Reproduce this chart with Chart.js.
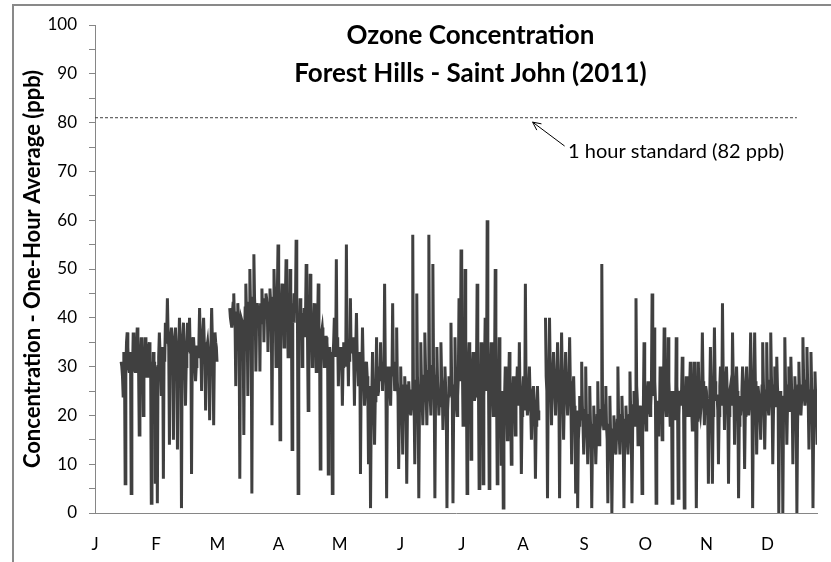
<!DOCTYPE html>
<html><head><meta charset="utf-8">
<script src="https://cdn.jsdelivr.net/npm/chart.js@4.4.1/dist/chart.umd.min.js"></script>
<style>html,body{margin:0;padding:0;background:#fff;}canvas{display:block;}</style>
</head><body>
<canvas id="c" width="831" height="562"></canvas>
<script>
// ---- data ----
const monthLabels = ['J','F','M','A','M','J','J','A','S','O','N','D'];
const monthStartDays = [0, 30.4, 60.8, 91.2, 121.6, 152, 182.4, 212.8, 243.2, 273.6, 304, 334.4];
const firstDay = 13;
// first reading of each day (peaks and dips)
const ozoneReadings = [
  31, 24, 6, 37, 29, 4, 37, 29,
  38, 16, 36, 20, 36, 28, 35, 2, 33, 6,
  2, 37, 24, 7, 39, 44, 14, 38, 15, 38,
  13, 40, 1, 39, 22, 39, 40, 8, 36, 27,
  34, 42, 25, 40, 21, 35, 19, 42, 18, 35,
  null, null, null, null, null, null,
  42, 38, 45, 26, 43, 7, 40, 16, 47, 24, 50, 4, 53, 29,
  43, 29, 46, 35, 45, 33, 46, 18, 50, 30,
  55, 15, 47, 34, 52, 32, 50, 13, 45, 56,
  4, 44, 30, 42, 51, 21, 49, 30, 43, 29,
  47, 9, 38, 30, 36, 8, 30, 4, 40, 52,
  26, 33, 22, 30, 55, 26, 44, 33, 22, 41,
  26, 8, 38, 22, 31, 10, 1, 33, 14, 36,
  25, 35, 25, 47, 3, 30, 22, 43, 25, 38,
  9, 30, 12, 28, 6, 27, 20, 57, 10, 45,
  3, 35, 18, 37, 18, 57, 20, 51, 3, 34,
  20, 35, 17, 30, 1, 28, 39, 2, 36, 20,
  44, 54, 18, 50, 4, 35, 11, 33, 24, 47,
  5, 35, 6, 40, 60, 5, 35, 20, 50, 6,
  36, 10, 1, 30, 15, 33, 10, 28, 16, 30,
  35, 8, 28, 47, 20, 30, 15, 26, 7, 26,
  null, null, null,
  40, 3, 40, 18, 33, 20, 35,
  3, 37, 15, 33, 20, 36, 10, 28, 4, 1,
  24, 31, 12, 30, 10, 26, 1, 22, 10, 27,
  17, 51, 17, 26, 2, 24, 0, 20, 12, 30,
  12, 24, 1, 22, 12, 29, 2, 25, 44, 14,
  22, 4, 35, 17, 27, 20, 45, 38, 2, 16,
  30, 15, 38, 20, 36, 18, 2, 25, 36, 3,
  25, 32, 1, 28, 20, 31, 17, 31, 1, 31,
  20, 37, 18, 25, 6, 34, 6, 38, 24, 10,
  30, 43, 17, 30, 6, 26, 37, 14, 30, 3,
  20, 30, 9, 30, 20, 37, 1, 37, 12, 26,
  15, 35, 13, 35, 20, 37, 10, 30, 32, 0,
  22, 0, 36, 14, 30, 32, 10, 28, 0, 31,
  20, 36, 22, 34, 13, 33, 1, 29, 14
];
// second reading of each day (the dense core of the trace)
const ozoneMidReadings = [
  30, 33, 29, 34, 31, 30, 33, 31,
  32, 29, 33, 30, 32, 31, 29, 30, 27, 30,
  30, 33, 30, 33, 35, 37, 33, 35, 32, 34,
  31, 35, 33, 34, 30, 36, 33, 31, 33, 30,
  32, 36, 34, 35, 31, 33, 30, 36, 32, 34,
  null, null, null, null, null, null,
  40, 41, 40, 38, 40, 37, 39, 36, 41, 38, 42, 40, 44, 40,
  40, 43, 41, 42, 44, 40, 43, 41, 44, 42,
  42, 44, 41, 43, 40, 42, 38, 40, 41, 39,
  40, 38, 41, 36, 39, 37, 38, 35, 37, 36,
  38, 34, 36, 33, 35, 31, 33, 32, 34, 33,
  31, 34, 30, 33, 32, 35, 33, 36, 32, 33,
  30, 27, 31, 25, 28, 22, 20, 24, 23, 26,
  30, 28, 31, 30, 24, 27, 30, 29, 26, 27,
  20, 24, 22, 25, 20, 24, 22, 26, 21, 28,
  22, 27, 24, 30, 25, 28, 26, 30, 24, 27,
  25, 28, 22, 26, 21, 24, 27, 22, 26, 24,
  30, 33, 28, 32, 26, 29, 24, 27, 25, 30,
  22, 27, 24, 29, 31, 26, 28, 25, 30, 22,
  24, 20, 22, 25, 21, 24, 20, 23, 22, 25,
  24, 20, 23, 26, 22, 24, 20, 22, 18, 21,
  null, null, null,
  28, 25, 30, 27, 28, 25, 27,
  24, 28, 23, 26, 24, 27, 20, 22, 17, 15,
  19, 22, 17, 20, 16, 19, 14, 17, 15, 19,
  18, 24, 20, 18, 14, 17, 12, 15, 16, 20,
  17, 19, 14, 18, 16, 21, 17, 20, 26, 22,
  20, 18, 24, 21, 23, 22, 28, 27, 20, 22,
  24, 21, 26, 23, 27, 22, 19, 22, 26, 20,
  22, 25, 19, 23, 21, 25, 21, 24, 19, 24,
  22, 27, 23, 22, 19, 25, 20, 27, 24, 20,
  25, 29, 23, 25, 20, 24, 28, 22, 25, 18,
  22, 26, 20, 25, 22, 28, 20, 27, 21, 23,
  22, 27, 21, 26, 23, 28, 20, 25, 26, 18,
  20, 19, 27, 22, 25, 26, 20, 24, 18, 25,
  23, 28, 24, 27, 21, 26, 18, 24, 20
];
// third reading of each day
const ozoneLateReadings = [
  28, 31, 35, 30, 33, 29, 31, 34,
  30, 33, 29, 32, 28, 34, 31, 27, 31, 28,
  32, 29, 34, 31, 37, 34, 36, 33, 36, 31,
  34, 32, 36, 30, 34, 33, 36, 35, 30, 34,
  35, 33, 37, 32, 34, 31, 35, 33, 37, 31,
  null, null, null, null, null, null,
  39, 43, 38, 41, 37, 40, 38, 42, 39, 43, 40, 44, 41, 43,
  42, 39, 44, 40, 42, 43, 40, 44, 41, 45,
  40, 43, 39, 44, 42, 40, 43, 39, 42, 41,
  38, 41, 37, 40, 36, 40, 36, 39, 35, 38,
  35, 37, 33, 36, 32, 34, 30, 35, 32, 36,
  34, 31, 35, 30, 34, 31, 36, 31, 34, 30,
  33, 29, 27, 29, 24, 26, 25, 21, 26, 24,
  27, 31, 28, 26, 29, 25, 28, 31, 29, 24,
  25, 21, 26, 22, 26, 21, 25, 23, 27, 24,
  26, 23, 28, 25, 29, 24, 30, 25, 28, 24,
  22, 26, 25, 22, 24, 27, 23, 26, 22, 28,
  27, 31, 30, 28, 31, 26, 30, 23, 28, 26,
  26, 23, 29, 25, 27, 30, 24, 29, 26, 27,
  21, 25, 24, 21, 26, 22, 25, 21, 26, 22,
  22, 25, 21, 24, 26, 21, 25, 19, 22, 19,
  null, null, null,
  25, 29, 26, 29, 24, 28, 24,
  27, 23, 27, 24, 28, 22, 25, 19, 21, 18,
  21, 18, 21, 17, 20, 15, 18, 16, 20, 14,
  21, 19, 22, 15, 18, 14, 17, 13, 19, 16,
  20, 15, 19, 15, 20, 16, 22, 18, 23, 19,
  17, 22, 20, 25, 21, 26, 24, 23, 23, 19,
  22, 25, 22, 27, 23, 25, 23, 19, 23, 24,
  25, 21, 24, 20, 26, 22, 26, 20, 25, 21,
  26, 23, 26, 20, 24, 21, 26, 23, 21, 26,
  22, 26, 27, 21, 25, 22, 25, 26, 21, 24,
  25, 21, 26, 22, 27, 23, 25, 22, 26, 20,
  26, 22, 25, 22, 27, 23, 26, 22, 23, 25,
  24, 22, 23, 26, 21, 23, 25, 21, 26, 22,
  26, 24, 27, 22, 25, 22, 25, 21, 24
];
const standardLevel = 81;
const standardLineDays = [0, 349];
const titleLines = ['Ozone Concentration', 'Forest Hills - Saint John (2011)'];
const yAxisTitle = 'Concentration - One-Hour Average (ppb)';
const annotationText = '1 hour standard (82 ppb)';
const arrowTip = {day: 217.6, value: 80.1};
const arrowTail = {day: 233.5, value: 75.2};
const labelAnchor = {day: 235.2, value: 74.0};
const axisMaxDay = 359;

// ---- build ----
const ozonePoints = [];
ozoneReadings.forEach((v, i) => {
  ozonePoints.push({x: firstDay + i, y: v});
  ozonePoints.push({x: firstDay + i + 1 / 3, y: ozoneMidReadings[i]});
  ozonePoints.push({x: firstDay + i + 2 / 3, y: ozoneLateReadings[i]});
});
const standardPoints = standardLineDays.map(d => ({x: d, y: standardLevel}));
const FONT = 'Lato, "Open Sans", sans-serif';

const framePlugin = {
  id: 'frame',
  beforeDraw(chart) {
    const ctx = chart.ctx;
    ctx.save();
    ctx.fillStyle = '#fff';
    ctx.fillRect(0, 0, chart.width, chart.height);
    ctx.strokeStyle = '#898989';
    ctx.lineWidth = 2;
    ctx.strokeRect(13, 5, 900, 700);
    ctx.restore();
  }
};

const annotPlugin = {
  id: 'annot',
  afterDatasetsDraw(chart) {
    const {ctx, chartArea, scales: {x, y}} = chart;
    ctx.save();
    ctx.fillStyle = '#000';
    ctx.textAlign = 'center';
    ctx.textBaseline = 'middle';
    ctx.font = 'bold 26px ' + FONT;
    const cx = chartArea.left + 0.52 * (chartArea.right - chartArea.left);
    ctx.fillText(titleLines[0], cx, chartArea.top + 11);
    ctx.fillText(titleLines[1], cx, chartArea.top + 49);
    const tx = x.getPixelForValue(arrowTip.day), ty = y.getPixelForValue(arrowTip.value);
    const sx = x.getPixelForValue(arrowTail.day), sy = y.getPixelForValue(arrowTail.value);
    ctx.strokeStyle = '#000';
    ctx.lineWidth = 1;
    ctx.beginPath();
    ctx.moveTo(sx, sy); ctx.lineTo(tx, ty);
    const ang = Math.atan2(ty - sy, tx - sx);
    const L = 9, A = 0.45;
    ctx.moveTo(tx - L * Math.cos(ang - A), ty - L * Math.sin(ang - A));
    ctx.lineTo(tx, ty);
    ctx.lineTo(tx - L * Math.cos(ang + A), ty - L * Math.sin(ang + A));
    ctx.stroke();
    ctx.font = '20px ' + FONT;
    ctx.textAlign = 'left';
    ctx.textBaseline = 'middle';
    ctx.fillText(annotationText, x.getPixelForValue(labelAnchor.day), y.getPixelForValue(labelAnchor.value));
    ctx.restore();
  }
};

new Chart(document.getElementById('c'), {
  type: 'line',
  data: {
    datasets: [
      {data: ozonePoints, borderColor: '#404040', borderWidth: 3, pointRadius: 0, tension: 0, spanGaps: false},
      {data: standardPoints, borderColor: '#404040', borderWidth: 1, borderDash: [3, 2], pointRadius: 0}
    ]
  },
  options: {
    responsive: false,
    animation: false,
    devicePixelRatio: 1,
    layout: {padding: {left: 14, top: 25, right: 14, bottom: 0}},
    plugins: {legend: {display: false}, tooltip: {enabled: false}, title: {display: false}},
    scales: {
      x: {
        type: 'linear', min: 0, max: axisMaxDay,
        afterBuildTicks: s => { s.ticks = monthStartDays.map(v => ({value: v})); },
        afterFit: s => { s.height = 49; },
        grid: {display: true, drawOnChartArea: false, drawTicks: false},
        border: {color: '#868686', width: 1},
        ticks: {
          autoSkip: false, maxRotation: 0, padding: 21, color: '#000',
          font: {family: FONT, size: 17},
          callback: (v, i) => monthLabels[i]
        }
      },
      y: {
        min: 0, max: 100,
        afterFit: s => { s.width = 81; },
        grid: {display: true, drawOnChartArea: false, drawTicks: true, tickLength: 6, color: '#868686'},
        border: {color: '#868686', width: 1},
        ticks: {
          stepSize: 5, padding: 12, color: '#000',
          font: {family: FONT, size: 17},
          callback: v => (v % 10 === 0 ? String(v) : '')
        },
        title: {display: true, text: yAxisTitle, color: '#000', font: {family: FONT, size: 22, weight: 'bold'}, padding: {top: 6, bottom: 0}}
      }
    }
  },
  plugins: [framePlugin, annotPlugin]
});
</script>
</body></html>
